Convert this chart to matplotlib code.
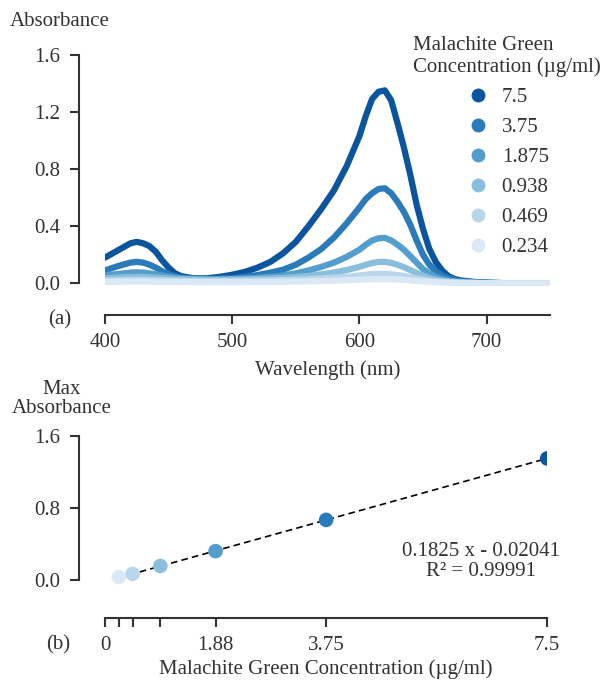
import matplotlib
matplotlib.use("Agg")
import matplotlib.pyplot as plt
from matplotlib.lines import Line2D
import numpy as np

plt.rcParams['font.family'] = ['Liberation Serif', 'DejaVu Serif']
plt.rcParams['font.size'] = 15
plt.rcParams['text.color'] = '#333333'
plt.rcParams['axes.edgecolor'] = '#333333'
plt.rcParams['xtick.color'] = '#333333'
plt.rcParams['ytick.color'] = '#333333'
plt.rcParams['axes.labelcolor'] = '#333333'

# spectra
wavelength = [400, 410, 420, 425, 430, 435, 440, 445, 450, 455, 460,
              470, 480, 490, 500, 510, 520, 530, 540, 550, 560, 570, 580, 590, 600,
              605, 610, 615, 620, 625, 630, 635, 640, 645, 650, 655, 660, 665, 670, 675, 680,
              690, 700, 710, 720, 730, 740, 750]
abs_7_5 = [0.18, 0.23, 0.28, 0.29, 0.28, 0.26, 0.22, 0.16, 0.11, 0.07, 0.05,
           0.035, 0.035, 0.045, 0.06, 0.08, 0.11, 0.15, 0.21, 0.29, 0.40, 0.52, 0.65, 0.82, 1.03,
           1.17, 1.29, 1.34, 1.35, 1.28, 1.12, 0.95, 0.76, 0.55, 0.38, 0.24, 0.15, 0.09, 0.05, 0.03, 0.02,
           0.01, 0.005, 0.002, 0, 0, 0, 0]
abs_3_75 = [0.09, 0.12, 0.145, 0.15, 0.145, 0.13, 0.11, 0.085, 0.065, 0.05, 0.04,
            0.033, 0.03, 0.032, 0.036, 0.045, 0.058, 0.075, 0.095, 0.13, 0.18, 0.24, 0.32, 0.42, 0.53,
            0.59, 0.63, 0.66, 0.665, 0.63, 0.57, 0.50, 0.41, 0.30, 0.20, 0.13, 0.085, 0.055, 0.035, 0.022, 0.015,
            0.008, 0.004, 0.002, 0, 0, 0, 0]
abs_1_875 = [0.055, 0.065, 0.075, 0.077, 0.075, 0.07, 0.063, 0.055, 0.047, 0.04, 0.035,
             0.03, 0.028, 0.028, 0.03, 0.033, 0.038, 0.045, 0.055, 0.07, 0.09, 0.115, 0.145, 0.185, 0.235,
             0.27, 0.30, 0.315, 0.318, 0.30, 0.27, 0.235, 0.19, 0.145, 0.10, 0.07, 0.045, 0.03, 0.02, 0.013, 0.009,
             0.005, 0.003, 0, 0, 0, 0, 0]
abs_0_938 = [0.035, 0.04, 0.044, 0.045, 0.044, 0.042, 0.04, 0.037, 0.034, 0.031, 0.029,
             0.026, 0.025, 0.025, 0.026, 0.028, 0.03, 0.034, 0.038, 0.044, 0.052, 0.063, 0.076, 0.093, 0.115,
             0.13, 0.142, 0.15, 0.15, 0.143, 0.13, 0.113, 0.093, 0.072, 0.053, 0.038, 0.027, 0.019, 0.013, 0.009, 0.006,
             0.003, 0.002, 0, 0, 0, 0, 0]
abs_0_469 = [0.02, 0.022, 0.024, 0.025, 0.024, 0.023, 0.022, 0.021, 0.02, 0.019, 0.018,
             0.017, 0.016, 0.016, 0.017, 0.018, 0.019, 0.021, 0.023, 0.026, 0.029, 0.034, 0.039, 0.046, 0.055,
             0.06, 0.064, 0.066, 0.066, 0.063, 0.058, 0.051, 0.043, 0.035, 0.027, 0.02, 0.015, 0.011, 0.008, 0.006, 0.004,
             0.002, 0.001, 0, 0, 0, 0, 0]
abs_0_234 = [0.01, 0.011, 0.012, 0.012, 0.012, 0.012, 0.011, 0.011, 0.01, 0.01, 0.009,
             0.009, 0.008, 0.008, 0.008, 0.009, 0.009, 0.01, 0.011, 0.012, 0.014, 0.016, 0.018, 0.021, 0.025,
             0.027, 0.029, 0.03, 0.03, 0.029, 0.027, 0.024, 0.021, 0.017, 0.014, 0.011, 0.008, 0.006, 0.005, 0.004, 0.003,
             0.002, 0.001, 0, 0, 0, 0, 0]

conc_labels = ['7.5', '3.75', '1.875', '0.938', '0.469', '0.234']
concentrations = [7.5, 3.75, 1.875, 0.938, 0.469, 0.234]
max_abs = [1.348, 0.665, 0.318, 0.153, 0.066, 0.03]
colors = ['#0b559f', '#2b7bba', '#539ecd', '#89bedc', '#bad6eb', '#dbe9f6']

fit_slope = 0.1825
fit_intercept = -0.02041
r_squared = 0.99991

spectra = [abs_7_5, abs_3_75, abs_1_875, abs_0_938, abs_0_469, abs_0_234]

fig = plt.figure(figsize=(6, 6.83), dpi=100)

# (a) spectra
ax1 = fig.add_axes([0.175, 0.581, 0.742, 0.339])
for vals, c in zip(spectra, colors):
    ax1.plot(wavelength, vals, color=c, lw=4.5, solid_capstyle='round',
             solid_joinstyle='round')
ax1.set_xlim(400, 750)
ax1.set_ylim(-0.02, 1.6)
ax1.set_xticks([400, 500, 600, 700])
ax1.set_yticks([0.0, 0.4, 0.8, 1.2, 1.6])
ax1.set_yticklabels(['0.0', '0.4', '0.8', '1.2', '1.6'])
ax1.set_xlabel('Wavelength (nm)', labelpad=6)

# (b) calibration
ax2 = fig.add_axes([0.175, 0.138, 0.737, 0.224])
xfit = np.array([concentrations[-1], concentrations[0]])
ax2.plot(xfit, fit_slope * xfit + fit_intercept, ls='--', color='black', lw=1.2, dashes=(4, 2.5))
ax2.scatter(concentrations, max_abs, c=colors, s=110, zorder=3, linewidths=0)
ax2.set_xlim(0, 7.5)
ax2.set_ylim(-0.1, 1.6)
ax2.set_xticks([0] + concentrations[::-1])
ax2.set_xticklabels(['0', '', '', '', '1.88', '3.75', '7.5'])
ax2.set_yticks([0.0, 0.8, 1.6])
ax2.set_yticklabels(['0.0', '0.8', '1.6'])
ax2.set_xlabel('Malachite Green Concentration (µg/ml)', labelpad=3)
ax2.text(0.851, 0.18, f'{fit_slope} x - {abs(fit_intercept)}\nR² = {r_squared}',
         transform=ax2.transAxes, ha='center', va='center', linespacing=1.05)

for ax in (ax1, ax2):
    ax.spines['top'].set_visible(False)
    ax.spines['right'].set_visible(False)
    ax.spines['left'].set_position(('outward', 19))
    ax.spines['bottom'].set_position(('outward', 21))
    ax.spines['left'].set_linewidth(1.5)
    ax.spines['bottom'].set_linewidth(1.5)
    ax.tick_params(width=1.5, length=6.5, labelsize=15, pad=6.5)
    ax.patch.set_alpha(0)
ax1.spines['left'].set_bounds(0, 1.6)
ax1.spines['bottom'].set_bounds(400, 750)
ax2.spines['left'].set_bounds(0, 1.6)
ax2.spines['bottom'].set_bounds(0, 7.5)

fig.text(10 / 600, 1 - 21 / 683, 'Absorbance', ha='left', va='center')
fig.text(62 / 600, 1 - 399 / 683, 'Max\nAbsorbance', ha='center', va='center', linespacing=1.0)
fig.text(60 / 600, 1 - 320 / 683, '(a)', ha='center', va='center')
fig.text(58 / 600, 1 - 645 / 683, '(b)', ha='center', va='center')

handles = [Line2D([], [], ls='none', marker='o', ms=10, color=c, mec='none') for c in colors]
fig.legend(handles, conc_labels, title='Malachite Green\nConcentration (µg/ml)',
           loc='upper center', bbox_to_anchor=(507 / 600, 1 - 17 / 683), frameon=False,
           fontsize=15, title_fontsize=15, handletextpad=0.55, labelspacing=0.5,
           handlelength=1.2)

fig.savefig('out.png', dpi=100)
